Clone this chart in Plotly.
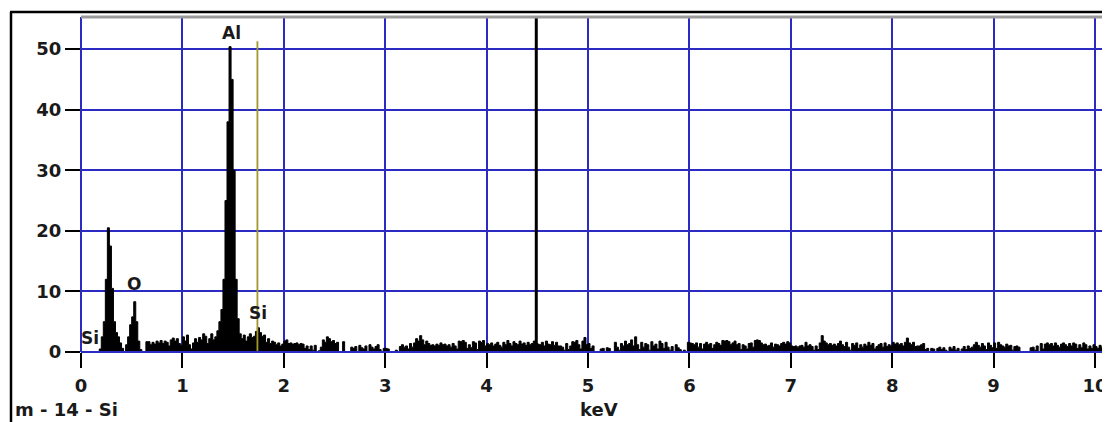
import plotly.graph_objects as go

# ---------------- data ----------------
bin_width_keV = 0.02
# counts per 0.02 keV channel, starting at 0.00 keV (one row = 1 keV)
counts_0 = [0, 0, 0, 0, 0, 0, 0, 0, 0, 0.5, 2.5, 5, 12, 20.5, 17.5, 10.5, 5, 3.2, 2.5, 1.5,
            0.6, 0, 1.2, 2.5, 4.5, 5.8, 8.3, 5, 1.8, 0.4, 0, 0, 1.7, 1.7, 1.2, 1.6, 1.3, 1.8, 1.5, 1.9,
            1.4, 1.8, 1.6, 1.0, 2.0, 2.3, 1.8, 2.2, 1.4, 1.1]
counts_1 = [2.5, 1.8, 2.8, 1.2, 0.5, 1.5, 2.2, 1.6, 2.4, 2.0, 3.0, 2.6, 1.4, 2.2, 3.0, 2.0, 2.5, 3.5, 5, 7,
            12, 25, 38, 50.4, 45, 30, 12, 5.5, 3, 2.2, 2.8, 1.8, 2.5, 3.0, 2.4, 2.6, 3.4, 4, 3.2, 2.6,
            2.8, 1.6, 2.2, 1.4, 1.8, 1.6, 1.2, 1.5, 1.0, 1.3]
counts_2 = [1.8, 2.0, 1.4, 1.5, 1.3, 1.4, 1.5, 1.2, 1.4, 1.3, 0.6, 1.0, 0.4, 1.0, 0.3, 1.1, 0, 0.2, 0.8, 2.0,
            1.6, 2.5, 2.2, 1.7, 1.9, 1.4, 1.6, 0, 0, 1.7, 0, 0, 0, 0.8, 0.6, 0.9, 0, 1.1, 0.7, 0.5,
            1.0, 0, 1.2, 0.8, 0.5, 0.9, 1.2, 0.4, 0, 0.6]
counts_3 = [0.6, 0.5, 0, 0, 0, 0.3, 0, 0.9, 1.2, 0.8, 1.0, 0.5, 1.4, 0.8, 1.5, 2.2, 1.8, 2.7, 2.0, 1.2,
            1.8, 1.4, 1.1, 1.2, 1.0, 1.3, 1.1, 1.5, 1.2, 1.3, 1.0, 1.2, 0.8, 1.4, 1.0, 0.5, 1.8, 1.7, 1.9, 1.6,
            0.6, 1.2, 0.7, 1.7, 1.5, 0.4, 1.8, 1.6, 1.9, 1.0]
counts_4 = [1.4, 1.2, 1.5, 1.0, 1.3, 1.6, 1.1, 0.8, 1.6, 1.2, 1.9, 1.4, 1.0, 1.7, 1.4, 1.2, 1.8, 1.3, 1.5, 1.1,
            1.6, 1.2, 1.4, 1.8, 1.5, 1.3, 1.2, 1.6, 1.0, 1.8, 1.3, 1.2, 1.7, 1.1, 1.6, 1.0, 1.0, 0.8, 0.3, 1.4,
            0.4, 1.0, 1.7, 1.6, 1.9, 1.2, 0.5, 1.8, 2.4, 1.2]
counts_5 = [1.4, 0.6, 1.0, 0, 0, 0, 0.5, 0.6, 0, 0.7, 0.6, 0, 0, 1.6, 0.8, 0.3, 1.4, 1.0, 1.8, 1.2,
            1.4, 2.0, 1.0, 2.5, 1.2, 0.4, 1.6, 0.8, 1.4, 1.2, 0.3, 1.7, 1.0, 1.3, 0.5, 1.8, 1.4, 0.6, 1.6, 0.8,
            0.3, 0.9, 0, 1.2, 0.7, 0.4, 0, 0.3, 0, 1.6]
counts_6 = [1.5, 1.4, 1.2, 1.5, 0.8, 1.4, 0.5, 1.3, 1.6, 1.2, 1.4, 0.6, 1.2, 1.6, 1.4, 1.1, 1.9, 1.8, 1.9, 1.7,
            1.2, 1.5, 1.8, 1.2, 1.4, 0.4, 1.2, 1.0, 0.5, 1.4, 1.5, 0.8, 1.9, 2.0, 1.9, 1.5, 1.2, 1.3, 1.0, 1.1,
            1.5, 0.8, 1.3, 1.2, 1.0, 1.4, 1.6, 1.3, 1.7, 1.5]
counts_7 = [1.0, 0.9, 1.0, 0.8, 1.0, 1.1, 0.8, 1.6, 1.0, 1.2, 0.9, 0.3, 1.0, 0.4, 1.5, 2.7, 1.8, 1.5, 1.2, 1.4,
            1.1, 1.3, 1.0, 1.4, 1.8, 1.2, 0.9, 1.6, 0.8, 0.3, 1.4, 1.1, 1.5, 0.6, 1.2, 0.8, 1.3, 1.0, 1.6, 1.1,
            1.4, 0.5, 0.9, 1.2, 1.4, 0.8, 1.5, 0.9, 1.2, 1.0]
counts_8 = [1.6, 1.3, 1.5, 1.2, 1.4, 1.0, 1.6, 2.3, 1.5, 1.2, 1.6, 0.9, 1.0, 1.0, 1.2, 1.4, 0.4, 0.6, 0, 0.6,
            0.5, 0, 0.6, 0.8, 0.4, 0.7, 0.3, 0, 0.8, 0.5, 0.9, 0.3, 0.6, 0, 0.5, 0.9, 0.4, 1.0, 0.6, 0.8,
            1.2, 1.6, 1.1, 0.8, 1.4, 1.0, 0.4, 1.5, 1.1, 0.7]
counts_9 = [1.5, 0.6, 1.6, 1.2, 1.0, 0.8, 1.3, 1.0, 1.1, 0.3, 0.9, 1.0, 0.8, 0, 0, 0, 0, 0, 0.7, 0.8,
            0.3, 1.0, 0, 1.4, 0.5, 1.3, 1.5, 1.2, 1.4, 1.0, 1.5, 1.1, 0.8, 1.3, 1.5, 1.2, 0.9, 1.4, 1.0, 1.5,
            1.3, 0.6, 1.2, 0.7, 1.5, 1.2, 0.5, 1.0, 0.6, 1.2]
counts_10 = [0.9, 0.6, 1.1, 0.8, 1.3, 0.7, 1.0, 0.9]

counts = (counts_0 + counts_1 + counts_2 + counts_3 + counts_4 + counts_5 +
          counts_6 + counts_7 + counts_8 + counts_9 + counts_10)

# element labels
label_texts = ["Si", "O", "Al", "Si"]
label_keV = [0.09, 0.52, 1.48, 1.745]
label_counts = [2.3, 11.2, 52.6, 6.4]

# KLM marker for Si K-alpha and the cursor
si_marker_keV = 1.74
si_marker_height = 51.3
cursor_keV = 4.49

x_ticks = [0, 1, 2, 3, 4, 5, 6, 7, 8, 9, 10]
y_ticks = [0, 10, 20, 30, 40, 50]
x_range = [0, 10.148]
y_range = [0, 55.3]

x_title = "keV"
footer_text = "m - 14 - Si"

# ---------------- figure ----------------
# the page body adds an 8 px margin, so the figure is 8 px smaller and
# every pixel position below is given in page coordinates of the reference
OFF = 8
W, H = 1110 - OFF, 422 - OFF
ml, mr, mt, mb = 81 - OFF, 0, 17 - OFF, 422 - 352
pw, ph = W - ml - mr, H - mt - mb

energies = [i * bin_width_keV for i in range(len(counts) + 1)]
ys = counts + [counts[-1]]

FONT = "DejaVu Sans"
TXT = "#1a1a1a"
BLUE = "#2b2bc4"

fig = go.Figure()
fig.add_trace(go.Scatter(
    x=energies, y=ys, mode="lines", line=dict(color="black", width=1, shape="hv"),
    fill="tozeroy", fillcolor="black", hoverinfo="skip", showlegend=False))

# Si marker line
fig.add_trace(go.Scatter(
    x=[si_marker_keV, si_marker_keV], y=[0, si_marker_height], mode="lines",
    line=dict(color="#a09828", width=1.8), showlegend=False, hoverinfo="skip"))

# cursor line
fig.add_trace(go.Scatter(
    x=[cursor_keV, cursor_keV], y=[0, y_range[1]], mode="lines",
    line=dict(color="black", width=3), showlegend=False, hoverinfo="skip", cliponaxis=False))

for t, xv, yv in zip(label_texts, label_keV, label_counts):
    fig.add_annotation(x=xv, y=yv, text=t, showarrow=False,
                       font=dict(family=FONT, size=17, color=TXT, weight="bold"))


def px_x(p):
    return (p - OFF - ml) / pw


def px_y(p):
    return (H - mb - (p - OFF)) / ph


shapes = [
    # baseline above traces
    dict(type="line", xref="paper", yref="y", x0=0, x1=1, y0=0, y1=0,
         line=dict(color=BLUE, width=2), layer="above"),
    # plot top grey border
    dict(type="line", xref="paper", yref="paper", x0=0, x1=1, y0=1, y1=1,
         line=dict(color="#9a9a9a", width=3), layer="above"),
    # outer frame
    dict(type="line", xref="paper", yref="paper", x0=px_x(10), x1=px_x(1112), y0=px_y(12), y1=px_y(12),
         line=dict(color="black", width=2.5), layer="above"),
    dict(type="line", xref="paper", yref="paper", x0=px_x(11), x1=px_x(11), y0=px_y(12), y1=px_y(424),
         line=dict(color="black", width=2.5), layer="above"),
]
fig.update_layout(shapes=shapes)

fig.add_annotation(xref="paper", yref="paper", x=px_x(599), y=px_y(422), yanchor="bottom",
                   text=x_title, showarrow=False,
                   font=dict(family=FONT, size=18, color=TXT, weight="bold"))
fig.add_annotation(xref="paper", yref="paper", x=px_x(13), y=px_y(422), xanchor="left", yanchor="bottom",
                   text=footer_text, showarrow=False,
                   font=dict(family=FONT, size=18, color=TXT, weight="bold"))

fig.update_layout(
    width=W, height=H, margin=dict(l=ml, r=mr, t=mt, b=mb, pad=0),
    paper_bgcolor="white", plot_bgcolor="white",
    font=dict(family=FONT, size=18, color=TXT),
    xaxis=dict(range=x_range, tickvals=x_ticks, ticktext=[str(v) for v in x_ticks],
               showgrid=True, gridcolor=BLUE, gridwidth=2,
               zeroline=True, zerolinecolor=BLUE, zerolinewidth=2,
               ticks="outside", ticklen=15, tickwidth=2, tickcolor="black",
               ticklabelstandoff=2,
               tickfont=dict(family=FONT, size=18, color=TXT, weight="bold"),
               showline=False, fixedrange=True),
    yaxis=dict(range=y_range, tickvals=y_ticks, ticktext=[str(v) for v in y_ticks],
               showgrid=True, gridcolor=BLUE, gridwidth=2,
               zeroline=True, zerolinecolor=BLUE, zerolinewidth=2,
               ticks="outside", ticklen=15, tickwidth=2, tickcolor="black",
               ticklabelstandoff=0,
               tickfont=dict(family=FONT, size=18, color=TXT, weight="bold"),
               showline=False, fixedrange=True),
)

fig.write_html("out.html")
